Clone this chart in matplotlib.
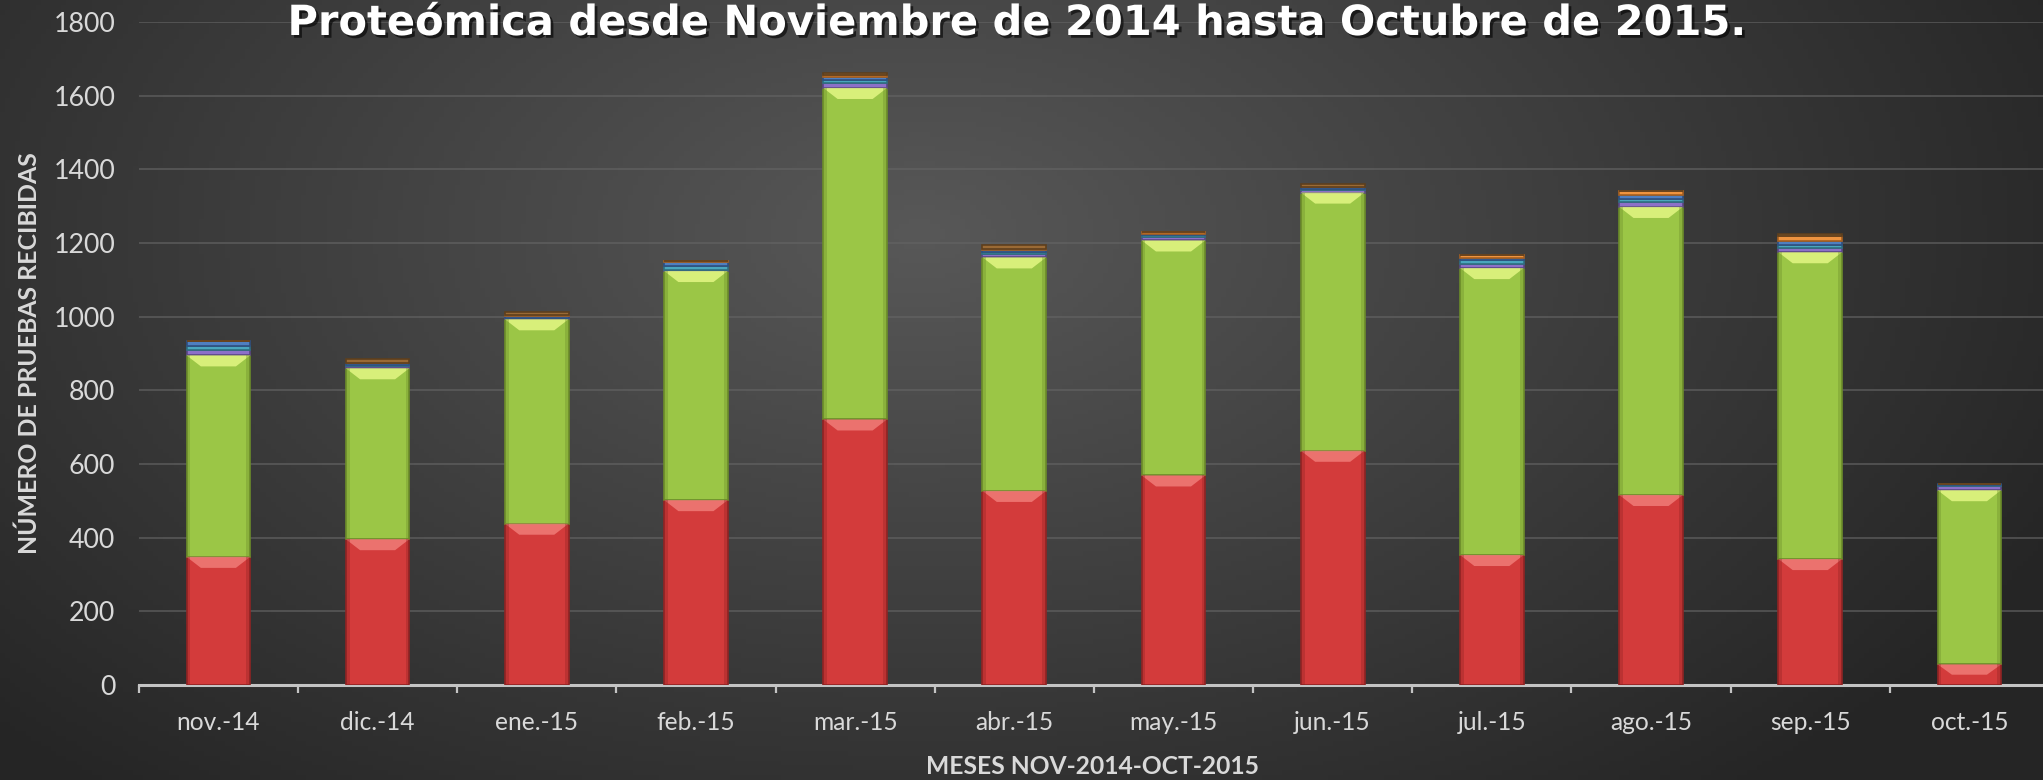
import numpy as np
import matplotlib
matplotlib.use("Agg")
import matplotlib.pyplot as plt
from matplotlib.patches import Polygon
import matplotlib.patheffects as pe

# ---------------- data ----------------
months = ["nov.-14", "dic.-14", "ene.-15", "feb.-15", "mar.-15", "abr.-15",
          "may.-15", "jun.-15", "jul.-15", "ago.-15", "sep.-15", "oct.-15"]
serie_roja = [348, 396, 438, 502, 721, 527, 569, 636, 353, 516, 342, 56]
serie_verde = [547, 464, 555, 622, 900, 634, 638, 701, 779, 782, 833, 473]
serie_morada = [14, 5, 4, 3, 14, 9, 8, 7, 12, 13, 12, 10]
serie_aqua = [12, 3, 0, 10, 8, 5, 6, 3, 9, 9, 8, 3]
serie_azul = [14, 7, 6, 12, 9, 6, 3, 4, 6, 10, 10, 5]
serie_naranja = [0, 0, 2, 1, 5, 3, 6, 2, 9, 12, 15, 0]
serie_marron = [0, 10, 8, 0, 4, 10, 0, 7, 0, 0, 5, 0]

yticks = [0, 200, 400, 600, 800, 1000, 1200, 1400, 1600, 1800]
title = "Proteómica desde Noviembre de 2014 hasta Octubre de 2015."
ylabel = "NÚMERO DE PRUEBAS RECIBIDAS"
xlabel = "MESES NOV-2014-OCT-2015"

# ---------------- figure ----------------
W, H = 2043, 780
fig = plt.figure(figsize=(W / 100, H / 100), dpi=100)

# background radial gradient
bg = fig.add_axes([0, 0, 1, 1], zorder=-10)
gx, gy = np.meshgrid(np.linspace(0, 1, 400), np.linspace(0, 1, 160))
d = np.sqrt(((gx - 0.45) / 0.62) ** 2 + ((gy - 0.70) / 0.95) ** 2)
d = np.clip(d, 0, 1)
c_in = np.array([0x58, 0x58, 0x58]) / 255
c_out = np.array([0x25, 0x25, 0x25]) / 255
img = c_in[None, None, :] * (1 - d[..., None]) + c_out[None, None, :] * d[..., None]
bg.imshow(img, extent=[0, 1, 0, 1], origin="lower", aspect="auto")
bg.set_axis_off()

left_px, right_px = 138.8, 2049.0
bot_px, top_px = 685.0, 22.0
ax = fig.add_axes([left_px / W, 1 - bot_px / H, (right_px - left_px) / W, (bot_px - top_px) / H])
ax.patch.set_alpha(0)
x = np.arange(len(months))
ax.set_xlim(-0.5, len(months) - 0.5)
ax.set_ylim(0, 1800)

ax.set_yticks(yticks)
ax.grid(axis="y", color="#646464", linewidth=1.1, alpha=0.8)
ax.set_axisbelow(True)
for s in ["left", "right", "top"]:
    ax.spines[s].set_visible(False)
ax.spines["bottom"].set_color("#c4c4c4")
ax.spines["bottom"].set_linewidth(2.2)
ax.tick_params(axis="y", length=0, pad=17, labelcolor="#d9d9d9")
ax.set_xticks(x)
ax.set_xticklabels(months)
ax.set_xticks(np.arange(-0.5, len(months), 1), minor=True)
ax.tick_params(axis="x", which="major", length=0, pad=19, labelcolor="#d9d9d9")
ax.tick_params(axis="x", which="minor", length=6, width=1.6, color="#c4c4c4", direction="out")

bw = 0.40
series = [
    (serie_roja, "#d33b3b", "#8f2424", "#f07c78"),
    (serie_verde, "#9bc646", "#6b8c2a", "#e4f784"),
    (serie_morada, "#8c70c8", "#5a4685", None),
    (serie_aqua, "#4aa6bd", "#2e6f80", None),
    (serie_azul, "#4f7fc0", "#2f4f80", None),
    (serie_naranja, "#ef9440", "#a8601f", None),
    (serie_marron, "#9a6a35", "#5e3f1d", None),
]
bottom = np.zeros(len(months))
bev_h = 30.0
bev_in = 0.09
for vals, col, edge, bev in series:
    v = np.array(vals, dtype=float)
    ax.bar(x, v, bw, bottom=bottom, color=col, edgecolor=edge, linewidth=1.2, zorder=3)
    if bev is not None:
        for xi, b0, h in zip(x, bottom, v):
            if h <= 0:
                continue
            top = b0 + h
            bh = min(bev_h, h * 0.5)
            poly = Polygon([[xi - bw / 2, top], [xi + bw / 2, top],
                            [xi + bw / 2 - bev_in, top - bh], [xi - bw / 2 + bev_in, top - bh]],
                           closed=True, facecolor=bev, edgecolor="none", alpha=0.85, zorder=4)
            ax.add_patch(poly)
            ax.bar(xi - bw / 2 + 0.012, h, 0.024, bottom=b0, color=edge, alpha=0.35, linewidth=0, zorder=4)
            ax.bar(xi + bw / 2 - 0.012, h, 0.024, bottom=b0, color=edge, alpha=0.35, linewidth=0, zorder=4)
    bottom = bottom + v

font = "Lato"
for lab in ax.get_yticklabels() + ax.get_xticklabels():
    lab.set_fontfamily(font)

ttl = fig.text(1016 / W, 1 - 35 / H, title, ha="center", va="baseline", color="white",
               fontsize=26, fontweight="bold", fontfamily="DejaVu Sans",
               path_effects=[pe.withSimplePatchShadow(offset=(2, -2), shadow_rgbFace="black", alpha=0.6)],
               zorder=5)
yl = fig.text(29 / W, 1 - 353 / H, ylabel, rotation=90, ha="center", va="center",
              color="#d9d9d9", fontsize=16, fontweight="bold", fontfamily=font)
xl = fig.text(1093 / W, 1 - 767 / H, xlabel, ha="center", va="center",
              color="#d9d9d9", fontsize=16, fontweight="bold", fontfamily=font)

fig.canvas.draw()
r = fig.canvas.get_renderer()

def fit_w(t, target):
    w = t.get_window_extent(r).width
    t.set_fontsize(t.get_fontsize() * target / w)

def fit_h(t, target):
    h = t.get_window_extent(r).height
    t.set_fontsize(t.get_fontsize() * target / h)

fit_w(ttl, 1460)
fit_h(yl, 402)
fit_w(xl, 334)
yl0 = ax.get_yticklabels()[-1]
s_y = yl0.get_fontsize() * 62 / yl0.get_window_extent(r).width
xl0 = ax.get_xticklabels()[0]
s_x = xl0.get_fontsize() * 84 / xl0.get_window_extent(r).width
ax.tick_params(axis="y", labelsize=s_y)
ax.tick_params(axis="x", which="major", labelsize=s_x)

fig.savefig("out.png", dpi=100)
